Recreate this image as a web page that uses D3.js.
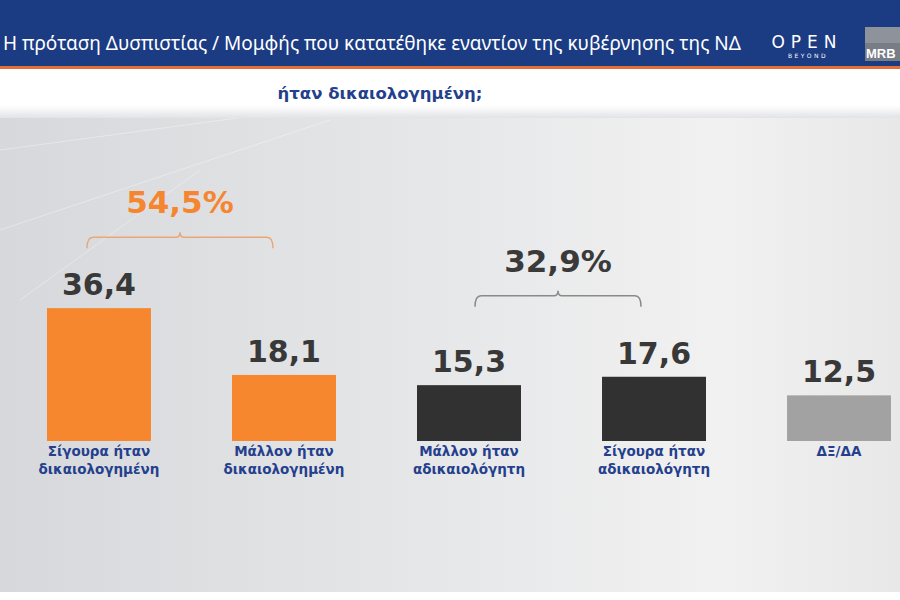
<!DOCTYPE html>
<html><head><meta charset="utf-8">
<script src="https://cdn.jsdelivr.net/npm/d3@7"></script>
<style>html,body{margin:0;padding:0;background:#fff;}svg{display:block;}</style>
</head><body>
<svg id="chart" width="900" height="600"></svg>
<script>
const title = "Η πρόταση Δυσπιστίας / Μομφής που κατατέθηκε εναντίον της κυβέρνησης της ΝΔ";
const subtitle = "ήταν δικαιολογημένη;";
const categories = ["Σίγουρα ήταν|δικαιολογημένη","Μάλλον ήταν|δικαιολογημένη","Μάλλον ήταν|αδικαιολόγητη","Σίγουρα ήταν|αδικαιολόγητη","ΔΞ/ΔΑ"];
const values = [36.4, 18.1, 15.3, 17.6, 12.5];
const valueLabels = ["36,4","18,1","15,3","17,6","12,5"];
const barKinds = ["pos","pos","neg","neg","dk"];
const groupFrom = [0, 2];
const groupTo = [1, 3];
const groupTotals = ["54,5%", "32,9%"];
const groupKinds = ["pos", "neg"];

const W = 900, H = 600;
const svg = d3.select("#chart");
const defs = svg.append("defs");
const colors = {pos:"#f7872e", neg:"#313131", dk:"#a2a2a2"};
const textColors = {pos:"#f5862f", neg:"#3a3a3a"};
const navy = "#243f8c";

// background
const bg = defs.append("linearGradient").attr("id","bg").attr("x1","0").attr("x2","1").attr("y1","0").attr("y2","0");
bg.append("stop").attr("offset","0").attr("stop-color","#d7d8db");
bg.append("stop").attr("offset","0.45").attr("stop-color","#e5e6e8");
bg.append("stop").attr("offset","0.8").attr("stop-color","#f1f1f1");
bg.append("stop").attr("offset","1").attr("stop-color","#e8e8e8");
svg.append("rect").attr("x",0).attr("y",112).attr("width",W).attr("height",480).attr("fill","url(#bg)");
const streaks = [[0,150,260,115],[0,230,330,120],[20,300,200,170]];
svg.append("g").selectAll("line").data(streaks).join("line")
  .attr("x1",d=>d[0]).attr("y1",d=>d[1]).attr("x2",d=>d[2]).attr("y2",d=>d[3])
  .attr("stroke","#ffffff").attr("stroke-opacity",0.35).attr("stroke-width",1);
svg.append("rect").attr("x",0).attr("y",592).attr("width",W).attr("height",8).attr("fill","#ffffff");

const sh = defs.append("linearGradient").attr("id","sh").attr("x1","0").attr("x2","0").attr("y1","0").attr("y2","1");
sh.append("stop").attr("offset","0").attr("stop-color","#ffffff");
sh.append("stop").attr("offset","0.75").attr("stop-color","#ffffff");
sh.append("stop").attr("offset","1").attr("stop-color","#e2e3e6");
svg.append("rect").attr("x",0).attr("y",68).attr("width",W).attr("height",50).attr("fill","url(#sh)");

// header
svg.append("rect").attr("x",0).attr("y",0).attr("width",W).attr("height",67).attr("fill","#1b3b83");
svg.append("rect").attr("x",0).attr("y",66).attr("width",W).attr("height",3).attr("fill","#e0703a");
svg.append("text").attr("x",3).attr("y",50).attr("text-anchor","start")
  .attr("font-family","'Noto Sans', sans-serif").attr("font-size",19).attr("fill","#ffffff").text(title);
svg.append("text").attr("x",807).attr("y",48).attr("text-anchor","middle")
  .attr("font-family","'DejaVu Sans', sans-serif").attr("font-size",17).attr("letter-spacing",6).attr("fill","#ffffff").text("OPEN");
svg.append("text").attr("x",808).attr("y",58).attr("text-anchor","middle")
  .attr("font-family","'DejaVu Sans', sans-serif").attr("font-size",6).attr("letter-spacing",2.5).attr("fill","#ffffff").text("BEYOND");
svg.append("rect").attr("x",865).attr("y",27).attr("width",35).attr("height",34).attr("fill","#8d929b");
svg.append("rect").attr("x",865).attr("y",43).attr("width",35).attr("height",18).attr("fill","#777c85");
svg.append("text").attr("x",866).attr("y",58).attr("font-family","'Liberation Sans', Arial, sans-serif")
  .attr("font-weight","bold").attr("font-size",13).attr("fill","#ffffff").text("MRB");

svg.append("text").attr("x",380).attr("y",99).attr("text-anchor","middle")
  .attr("font-family","'DejaVu Sans', sans-serif").attr("font-weight","bold").attr("font-size",16.5)
  .attr("fill",navy).text(subtitle);

// scales
const x = d3.scaleBand().domain(d3.range(values.length)).range([47, 891]).paddingInner(0.438).paddingOuter(0);
const baseY = 441;
const y = d3.scaleLinear().domain([0, 40]).range([baseY, baseY - 40*3.65]);

const g = svg.append("g");
g.selectAll("rect.bar").data(values).join("rect").attr("class","bar")
  .attr("x",(d,i)=>x(i)).attr("width",x.bandwidth())
  .attr("y",d=>y(d)).attr("height",d=>y(0)-y(d))
  .attr("fill",(d,i)=>colors[barKinds[i]]);

g.selectAll("text.val").data(values).join("text").attr("class","val")
  .attr("x",(d,i)=>x(i)+x.bandwidth()/2).attr("y",d=>y(d)-13)
  .attr("text-anchor","middle").attr("font-family","'DejaVu Sans', sans-serif")
  .attr("font-weight","bold").attr("font-size",30).attr("fill","#383838")
  .text((d,i)=>valueLabels[i]);

const cats = g.selectAll("text.cat").data(categories).join("text").attr("class","cat")
  .attr("text-anchor","middle").attr("font-family","'DejaVu Sans', sans-serif")
  .attr("font-weight","bold").attr("font-size",13.5).attr("fill",navy);
cats.each(function(d,i){
  const lines = d.split("|");
  d3.select(this).selectAll("tspan").data(lines).join("tspan")
    .attr("x", x(i)+x.bandwidth()/2)
    .attr("y",(l,j)=>y(0)+15+j*18)
    .text(l=>l);
});

// brackets
const bOff = [-71, -81];
groupFrom.forEach((a,k)=>{
  const b = groupTo[k];
  const left = x(a)+x.bandwidth()/2 + (k===0 ? -12 : 6);
  const right = x(b)+x.bandwidth()/2 + (k===0 ? -11 : -13);
  const top = y(Math.max(values[a], values[b])) + bOff[k];
  const mid = (left+right)/2;
  const col = k===0 ? "#e9a777" : "#8a8a8a";
  const path = `M${left},${top+11} Q${left},${top} ${left+6},${top} L${mid-4},${top} Q${mid},${top} ${mid},${top-5} Q${mid},${top} ${mid+4},${top} L${right-6},${top} Q${right},${top} ${right},${top+11}`;
  g.append("path").attr("d",path).attr("fill","none").attr("stroke",col).attr("stroke-width",1.5);
  g.append("text").attr("x",mid).attr("y",top-24).attr("text-anchor","middle")
    .attr("font-family","'DejaVu Sans', sans-serif").attr("font-weight","bold").attr("font-size",31)
    .attr("fill",textColors[groupKinds[k]]).text(groupTotals[k]);
});
</script>
</body></html>
